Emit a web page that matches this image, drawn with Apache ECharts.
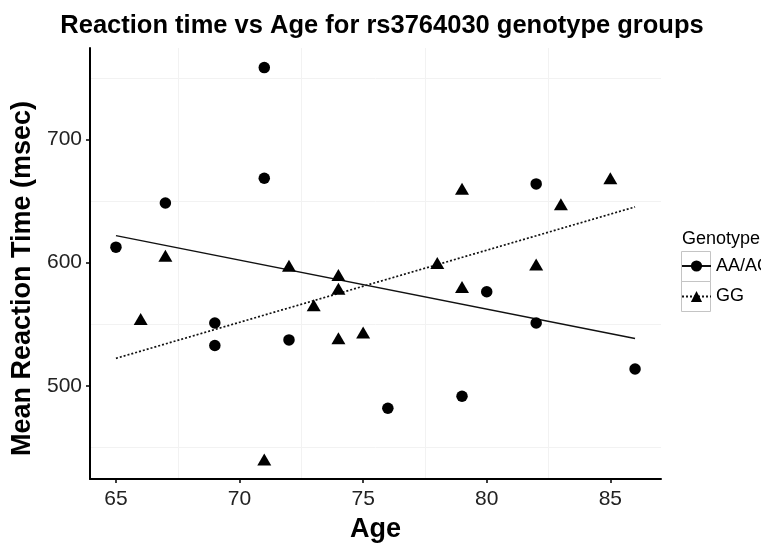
<!DOCTYPE html>
<html>
<head>
<meta charset="utf-8">
<script src="https://cdn.jsdelivr.net/npm/echarts@6/dist/echarts.min.js"></script>
<style>
html,body{margin:0;padding:0;background:#fff;}
#chart{width:761px;height:548px;}
</style>
</head>
<body>
<div id="chart"></div>
<script>
// ---- data ----
var titleText = 'Reaction time vs Age for rs3764030 genotype groups';
var xTicks = [65, 70, 75, 80, 85];
var yTicks = [500, 600, 700];
var xGrid = [67.5, 72.5, 77.5, 82.5];
var yGrid = [450, 550, 650, 750];
var groups = ['AA/AG', 'GG'];

// AA/AG (circles): [age, reaction time]
var aaag = [
  [65, 612.6], [67, 648.5], [69, 551], [69, 532.7], [71, 758.5], [71, 668.6],
  [72, 537.3], [76, 481.8], [79, 491.5], [80, 576.4], [82, 664], [82, 551], [86, 513.7]
];
// GG (triangles)
var gg = [
  [66, 554.2], [67, 605.7], [71, 440.2], [72, 597.6], [73, 565.5], [74, 590],
  [74, 578.8], [74, 538.6], [75, 543.4], [78, 599.7], [79, 660], [79, 580.2],
  [82, 598.6], [83, 647.5], [85, 668.6]
];
// fitted linear trend lines (endpoints)
var aaagFit = [[65, 622], [86, 538.4]];
var ggFit = [[65, 522.3], [86, 645.3]];

var FONT = 'Liberation Sans, Arial, sans-serif';

var chart = echarts.init(document.getElementById('chart'));
var option = {
  animation: false,
  backgroundColor: '#ffffff',
  title: [{
    text: titleText,
    left: 377, top: 8, textAlign: 'center',
    textStyle: {fontFamily: FONT, fontSize: 25.5, fontWeight: 'bold', color: '#000'}
  }, {
    text: 'Genotype',
    left: 682, top: 230, padding: 0,
    textStyle: {fontFamily: FONT, fontSize: 18, fontWeight: 'normal', color: '#000'}
  }],
  legend: {
    data: groups,
    orient: 'vertical',
    left: 681, top: 257, padding: 0,
    itemWidth: 29, itemHeight: 14, itemGap: 12.5,
    textStyle: {fontFamily: FONT, fontSize: 18, color: '#000'}
  },
  graphic: [
    {type: 'rect', shape: {x: 681.5, y: 251.5, width: 29, height: 30}, style: {fill: 'none', stroke: '#c4c4c4', lineWidth: 1}, z: -1},
    {type: 'rect', shape: {x: 681.5, y: 281.5, width: 29, height: 30}, style: {fill: 'none', stroke: '#c4c4c4', lineWidth: 1}, z: -1}
  ],
  grid: {left: 90, right: 100, top: 48, bottom: 62, containLabel: false},
  xAxis: {
    type: 'value', min: 63.95, max: 87.05,
    name: 'Age', nameLocation: 'middle', nameGap: 37,
    nameTextStyle: {fontFamily: FONT, fontSize: 27, fontWeight: 'bold', color: '#000'},
    axisLine: {show: true, onZero: false, lineStyle: {color: '#000', width: 2}},
    axisTick: {show: true, length: 4, customValues: xTicks, lineStyle: {color: '#000', width: 1.5}},
    axisLabel: {customValues: xTicks, fontFamily: FONT, fontSize: 21, color: '#222', margin: 10},
    splitLine: {show: false}
  },
  yAxis: {
    type: 'value', min: 424.3, max: 774.4,
    name: 'Mean Reaction Time (msec)', nameLocation: 'middle', nameGap: 52,
    nameTextStyle: {fontFamily: FONT, fontSize: 27, fontWeight: 'bold', color: '#000', padding: [0, 30, 0, 0]},
    axisLine: {show: true, onZero: false, lineStyle: {color: '#000', width: 2}},
    axisTick: {show: true, length: 4, customValues: yTicks, lineStyle: {color: '#000', width: 1.5}},
    axisLabel: {customValues: yTicks, fontFamily: FONT, fontSize: 21, color: '#222', margin: 8},
    splitLine: {show: false}
  },
  series: [
    {
      name: 'AA/AG', type: 'line', data: aaagFit,
      symbol: 'circle', showSymbol: false, z: 3,
      itemStyle: {color: '#000', opacity: 1},
      lineStyle: {color: '#111', width: 1.5, type: 'solid'}
    },
    {
      name: 'GG', type: 'line', data: ggFit,
      symbol: 'triangle', showSymbol: false, z: 3,
      itemStyle: {color: '#000', opacity: 1},
      lineStyle: {color: '#111', width: 1.7, type: [2, 2]}
    },
    {
      name: 'AA/AG', type: 'scatter', data: aaag,
      symbol: 'circle', symbolSize: 11.5, z: 4,
      itemStyle: {color: '#000', opacity: 1},
      markLine: {
        silent: true, symbol: 'none', z: 0,
        label: {show: false},
        lineStyle: {color: '#f2f2f2', width: 1, type: 'solid'},
        data: xGrid.map(function (v) { return {xAxis: v}; })
              .concat(yGrid.map(function (v) { return {yAxis: v}; }))
      }
    },
    {
      name: 'GG', type: 'scatter', data: gg,
      symbol: 'triangle', symbolSize: [14, 12], z: 4,
      itemStyle: {color: '#000', opacity: 1}
    }
  ]
};
chart.setOption(option);
</script>
</body>
</html>
